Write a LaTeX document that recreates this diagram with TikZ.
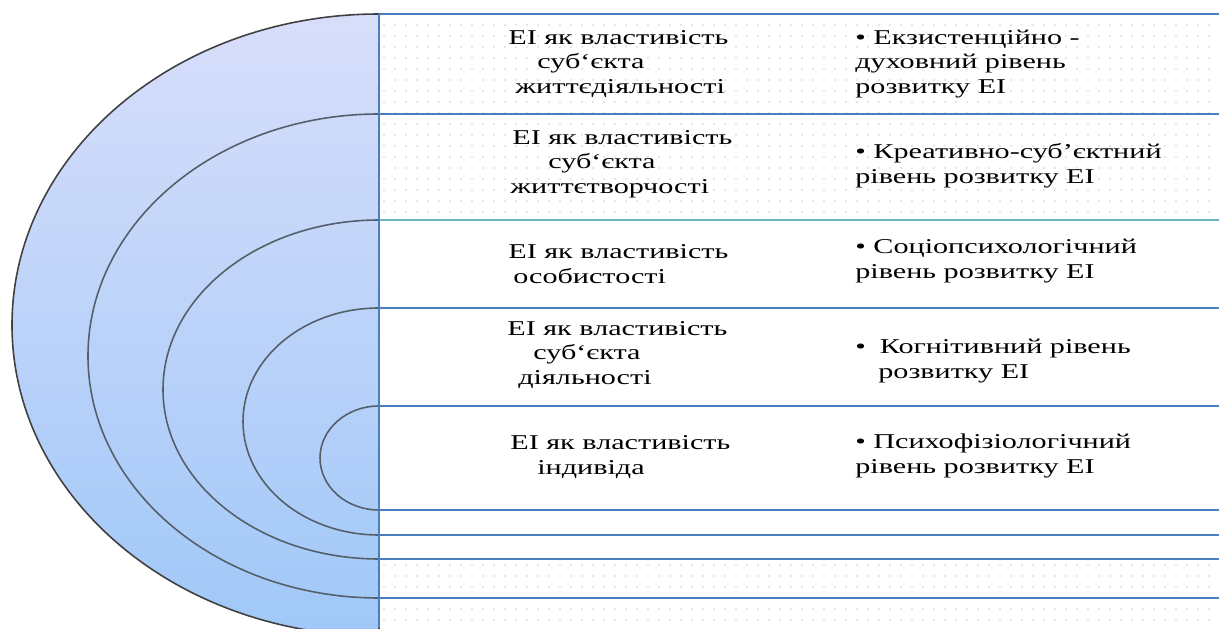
\documentclass[tikz,border=0pt]{standalone}
\usepackage{fontspec}
\setmainfont[FakeStretch=1.43]{Liberation Serif}
\usepackage{tikz}
\usetikzlibrary{positioning}
\definecolor{rowblue}{RGB}{74,126,193}
\definecolor{rowteal}{RGB}{110,180,190}
\definecolor{ringgray}{RGB}{85,95,105}
\definecolor{fadetop}{RGB}{216,222,250}
\definecolor{fadebottom}{RGB}{160,200,248}
\definecolor{dotgray}{RGB}{150,150,150}

\begin{document}
\begin{tikzpicture}[
    x=0.2mm, y=0.2mm,
    every node/.style={font=\fontsize{12}{14}\selectfont},
    prop/.style={anchor=west, align=left, inner sep=0pt},
    level/.style={anchor=west, align=left, inner sep=0pt},
    ring/.style={draw=ringgray, line width=0.9pt},
    rowline/.style={draw=rowblue, line width=0.7pt},
    dotrow/.style={draw=dotgray, line width=0.7pt, line cap=round, dash pattern=on 0pt off 2.2mm}
]
\useasboundingbox (0,0) rectangle (1219,628);
\clip (0,0) rectangle (1219,628);

% Dotted rows
\foreach \y in {603,592,...,412} \draw[dotrow] (384,\y) -- (1219,\y);
\foreach \y in {63,52,...,0} \draw[dotrow] (384,\y) -- (1219,\y);

% Rings
\shade[top color=fadetop, bottom color=fadebottom, draw=black!75, line width=0.9pt]
    (379,614) arc[start angle=90, end angle=270, x radius=367, y radius=311] -- cycle;
\draw[ring] (379,514) arc[start angle=90, end angle=270, x radius=291, y radius=242];
\draw[ring] (379,408) arc[start angle=90, end angle=270, x radius=216, y radius=169.5];
\draw[ring] (379,320) arc[start angle=90, end angle=270, x radius=136, y radius=113.5];
\draw[ring] (379,222) arc[start angle=90, end angle=270, x radius=59, y radius=52];

% Table rows
\draw[rowline] (379,614) -- (1219,614);
\draw[rowline] (379,514) -- (1219,514);
\draw[rowline, draw=rowteal] (379,408) -- (1219,408);
\draw[rowline] (379,320) -- (1219,320);
\draw[rowline] (379,222) -- (1219,222);
\draw[rowline] (379,118) -- (1219,118);
\draw[rowline] (379,93) -- (1219,93);
\draw[rowline] (379,69) -- (1219,69);
\draw[rowline] (379,30) -- (1219,30);
\draw[rowline] (379,0) -- (379,614);

% Properties
\node[prop] (prop1) at (508,564) {ЕІ як властивість\\\hspace*{5.8mm}суб`єкта\\\hspace*{1.4mm}життєдіяльності};
\node[prop] (prop2) at (510,464) {\hspace*{0.4mm}ЕІ як властивість\\\hspace*{7.6mm}суб`єкта\\життєтворчості};
\node[prop] (prop3) at (508,364) {ЕІ як властивість\\\hspace*{1mm}особистості};
\node[prop] (prop4) at (507,273) {ЕІ як властивість\\\hspace*{5.2mm}суб`єкта\\\hspace*{2.2mm}діяльності};
\node[prop] (prop5) at (510,171) {ЕІ як властивість\\\hspace*{5.4mm}індивіда};

% Levels
\node[level] (lvl1) at (855,564) {• Екзистенційно -\\духовний рівень\\розвитку ЕІ};
\node[level] (lvl2) at (855,462) {• Креативно-суб'єктний\\рівень розвитку ЕІ};
\node[level] (lvl3) at (855,367) {• Соціопсихологічний\\рівень розвитку ЕІ};
\node[level] (lvl4) at (855,267) {•\hspace*{2.8mm}Когнітивний рівень\\\hspace*{4.6mm}розвитку ЕІ};
\node[level] (lvl5) at (855,172) {• Психофізіологічний\\рівень розвитку ЕІ};

\end{tikzpicture}
\end{document}
